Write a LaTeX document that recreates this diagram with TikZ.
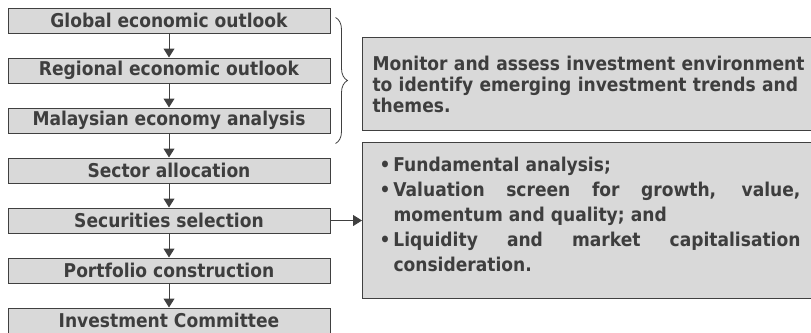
\documentclass[tikz,border=0pt]{standalone}
\usepackage{fontspec}
\setmainfont{DejaVu Sans Condensed}
\usetikzlibrary{arrows.meta,decorations.pathreplacing}
\definecolor{boxfill}{RGB}{217,217,217}
\definecolor{boxline}{RGB}{64,64,64}
\definecolor{txt}{RGB}{62,62,62}
\newcommand{\bul}[1]{\par\hangindent=14pt\hangafter=1\noindent\hbox to 14pt{\textbullet\hss}#1\par}

\begin{document}
\begin{tikzpicture}[x=1pt,y=-1pt,
    stage/.style={draw=boxline, fill=boxfill, line width=1pt, minimum width=322pt, minimum height=25pt, inner sep=0pt, text=txt, font=\bfseries\fontsize{19}{21}\selectfont},
    note/.style={draw=boxline, fill=boxfill, line width=1pt, anchor=north west, inner ysep=0pt, text width=450pt, align=left, text=txt},
    flow/.style={draw=boxline, line width=1pt, -{Triangle[length=9pt,width=11pt]}}]
    \useasboundingbox (0,0) rectangle (811,332);
    \clip (0,0) rectangle (811,332);
    \node[stage] (glob) at (169,20.5) {Global economic outlook};
    \node[stage] (reg) at (169,70.5) {Regional economic outlook};
    \node[stage] (mal) at (169,120.5) {Malaysian economy analysis};
    \node[stage] (sect) at (169,170.5) {Sector allocation};
    \node[stage] (sec) at (169,220.5) {Securities selection};
    \node[stage] (port) at (169,270.5) {Portfolio construction};
    \node[stage] (ic) at (169,320.5) {Investment Committee};
    \node[note, inner xsep=10pt, minimum height=93pt, font=\bfseries\fontsize{19}{21}\selectfont] (env) at (362,37)
        {\parbox{432pt}{\raggedright
        Monitor and assess investment environment\\
        to identify emerging investment trends and\\
        themes.}};
    \node[note, inner xsep=17pt, minimum height=156pt, font=\bfseries\fontsize{19}{25}\selectfont] (facts) at (362,142)
        {\parbox{421pt}{\leftskip=0pt\rightskip=0pt\parfillskip=0pt plus 1fil
        \spaceskip=0.32em plus 2em minus 0.1em\relax
        \bul{Fundamental analysis;}
        \bul{Valuation screen for growth, value,\linebreak momentum and quality; and}
        \bul{Liquidity and market capitalisation\linebreak consideration.}
        \vspace{12pt}}};
    \draw[flow] (glob) -- (reg);
    \draw[flow] (reg) -- (mal);
    \draw[flow] (mal) -- (sect);
    \draw[flow] (sect) -- (sec);
    \draw[flow] (sec) -- (port);
    \draw[flow] (port) -- (ic);
    \draw[flow] (sec.east) -- (sec.east -| facts.west);
    \draw[boxline, line width=0.8pt, decorate, decoration={brace, amplitude=12pt}]
        ([xshift=5pt,yshift=-10pt]glob.north east) -- ([xshift=5pt,yshift=-10pt]mal.south east);
\end{tikzpicture}
\end{document}
